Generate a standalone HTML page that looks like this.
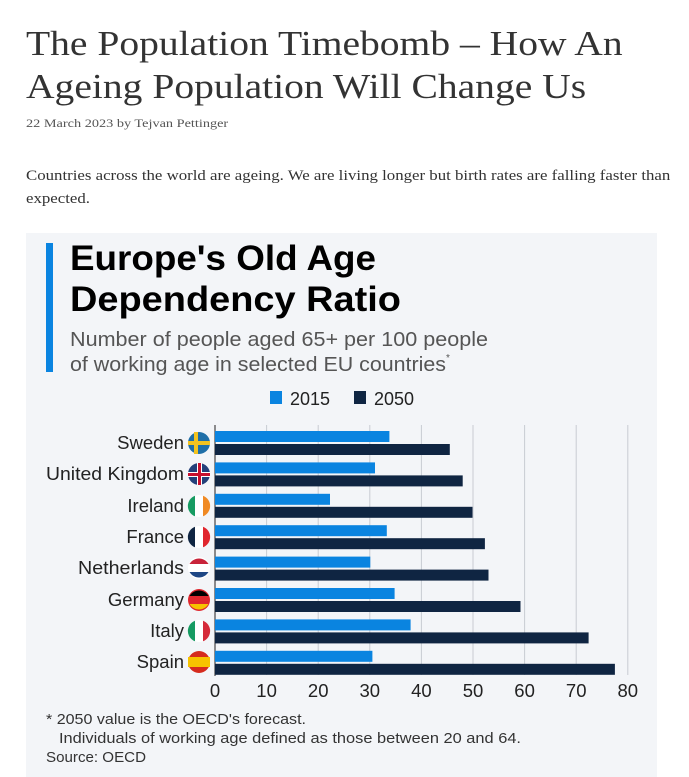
<!DOCTYPE html>
<html><head><meta charset="utf-8"><style>
body{margin:0;width:689px;height:777px;background:#fff;position:relative;overflow:hidden;font-family:"Liberation Serif",serif}
.a{position:absolute;white-space:nowrap;transform-origin:0 0}
</style></head><body>
<div class="a" style="left:26px;top:22px;font-size:35px;line-height:43px;color:#333;transform:scaleX(1.13)">The Population Timebomb – How An<br>Ageing Population Will Change Us</div>
<div class="a" style="left:26px;top:116px;font-size:12px;color:#555;transform:scaleX(1.19)">22 March 2023 by Tejvan Pettinger</div>
<div class="a" style="left:26px;top:165px;font-size:14.5px;line-height:23px;color:#333;transform:scaleX(1.16)">Countries across the world are ageing. We are living longer but birth rates are falling faster than<br>expected.</div>
<div class="a" style="left:26px;top:233px;width:631px;height:544px;background:#f3f5f8"></div>
<div class="a" style="left:46px;top:243px;width:7px;height:129px;background:#0a84e0"></div>
<svg class="a" style="left:0;top:0" width="689" height="777" font-family="Liberation Sans, sans-serif">
<g font-weight="bold" font-size="35" fill="#000">
<text x="70" y="270" textLength="306" lengthAdjust="spacingAndGlyphs">Europe's Old Age</text>
<text x="70" y="311" textLength="331" lengthAdjust="spacingAndGlyphs">Dependency Ratio</text>
</g>
<g font-size="20" fill="#555">
<text x="70" y="346" textLength="418" lengthAdjust="spacingAndGlyphs">Number of people aged 65+ per 100 people</text>
<text x="70" y="371" textLength="376" lengthAdjust="spacingAndGlyphs">of working age in selected EU countries</text>
<text x="446" y="361" font-size="10">*</text>
</g>
<rect x="270" y="391" width="12" height="13" fill="#0a84e0"/><text x="290" y="405" font-size="18" fill="#222">2015</text>
<rect x="354" y="391" width="12" height="13" fill="#0f2542"/><text x="374" y="405" font-size="18" fill="#222">2050</text>
<g stroke="#c8ccd2" stroke-width="1">
<line x1="266.6" y1="425" x2="266.6" y2="675"/><line x1="318.2" y1="425" x2="318.2" y2="675"/><line x1="369.8" y1="425" x2="369.8" y2="675"/><line x1="421.4" y1="425" x2="421.4" y2="675"/><line x1="473" y1="425" x2="473" y2="675"/><line x1="524.6" y1="425" x2="524.6" y2="675"/><line x1="576.2" y1="425" x2="576.2" y2="675"/><line x1="627.8" y1="425" x2="627.8" y2="675"/>
</g>
<line x1="215" y1="425" x2="215" y2="676" stroke="#444" stroke-width="1.2"/>
<g fill="#0a84e0">
<rect x="215" y="431" width="174.4" height="11"/><rect x="215" y="462.4" width="160" height="11"/><rect x="215" y="493.8" width="115" height="11"/><rect x="215" y="525.2" width="171.8" height="11"/><rect x="215" y="556.6" width="155.3" height="11"/><rect x="215" y="588" width="179.6" height="11"/><rect x="215" y="619.4" width="195.6" height="11"/><rect x="215" y="650.8" width="157.4" height="11"/>
</g>
<g fill="#0f2542">
<rect x="215" y="444" width="234.8" height="11"/><rect x="215" y="475.4" width="247.7" height="11"/><rect x="215" y="506.8" width="257.5" height="11"/><rect x="215" y="538.2" width="269.9" height="11"/><rect x="215" y="569.6" width="273.5" height="11"/><rect x="215" y="601" width="305.5" height="11"/><rect x="215" y="632.4" width="373.6" height="11"/><rect x="215" y="663.8" width="399.9" height="11"/>
</g>
<g font-size="18.5" fill="#222" text-anchor="end">
<text x="184" y="449">Sweden</text><text x="184" y="480" textLength="138" lengthAdjust="spacingAndGlyphs">United Kingdom</text><text x="184" y="512">Ireland</text><text x="184" y="543">France</text><text x="184" y="574" textLength="106" lengthAdjust="spacingAndGlyphs">Netherlands</text><text x="184" y="606">Germany</text><text x="184" y="637">Italy</text><text x="184" y="668">Spain</text>
</g>
<g>
<circle cx="199" cy="443" r="11" fill="#1f6fa8"/><rect x="194" y="432" width="4" height="22" fill="#f2c320"/><rect x="188" y="441" width="22" height="4" fill="#f2c320"/>
<circle cx="199" cy="474" r="11" fill="#23407a"/><rect x="188" y="472" width="22" height="5" fill="#fff"/><rect x="197" y="463" width="5" height="22" fill="#fff"/><rect x="188" y="473" width="22" height="3" fill="#c8102e"/><rect x="198" y="463" width="3" height="22" fill="#c8102e"/>
<circle cx="199" cy="506" r="11" fill="#fff"/><path d="M195 495.7 A11 11 0 0 0 195 516.3Z" fill="#169b62"/><path d="M203 495.7 A11 11 0 0 1 203 516.3Z" fill="#f08a24"/>
<circle cx="199" cy="537" r="11" fill="#fff"/><path d="M195 526.7 A11 11 0 0 0 195 547.3Z" fill="#0f2542"/><path d="M203 526.7 A11 11 0 0 1 203 547.3Z" fill="#e0262e"/>
<circle cx="199" cy="568" r="11" fill="#fff"/><path d="M189.5 564 A11 11 0 0 1 208.5 564Z" fill="#c8233a"/><path d="M189.5 572 A11 11 0 0 0 208.5 572Z" fill="#1e4785"/>
<circle cx="199" cy="600" r="11" fill="#e0262e"/><path d="M189.5 596 A11 11 0 0 1 208.5 596Z" fill="#000"/><path d="M189.5 604 A11 11 0 0 0 208.5 604Z" fill="#f7c300"/>
<circle cx="199" cy="631" r="11" fill="#fff"/><path d="M195 620.7 A11 11 0 0 0 195 641.3Z" fill="#169b62"/><path d="M203 620.7 A11 11 0 0 1 203 641.3Z" fill="#d52b3a"/>
<circle cx="199" cy="662" r="11" fill="#d52b1e"/><rect x="188" y="657" width="22" height="10" fill="#f7c300"/>
</g>
<g font-size="18.5" fill="#222" text-anchor="middle">
<text x="215" y="697">0</text><text x="266.6" y="697">10</text><text x="318.2" y="697">20</text><text x="369.8" y="697">30</text><text x="421.4" y="697">40</text><text x="473" y="697">50</text><text x="524.6" y="697">60</text><text x="576.2" y="697">70</text><text x="627.8" y="697">80</text>
</g>
<g font-size="15" fill="#333">
<text x="46" y="724" textLength="260" lengthAdjust="spacingAndGlyphs">* 2050 value is the OECD's forecast.</text>
<text x="59" y="743" textLength="462" lengthAdjust="spacingAndGlyphs">Individuals of working age defined as those between 20 and 64.</text>
<text x="46" y="762" textLength="100" lengthAdjust="spacingAndGlyphs">Source: OECD</text>
</g>
</svg>
</body></html>
